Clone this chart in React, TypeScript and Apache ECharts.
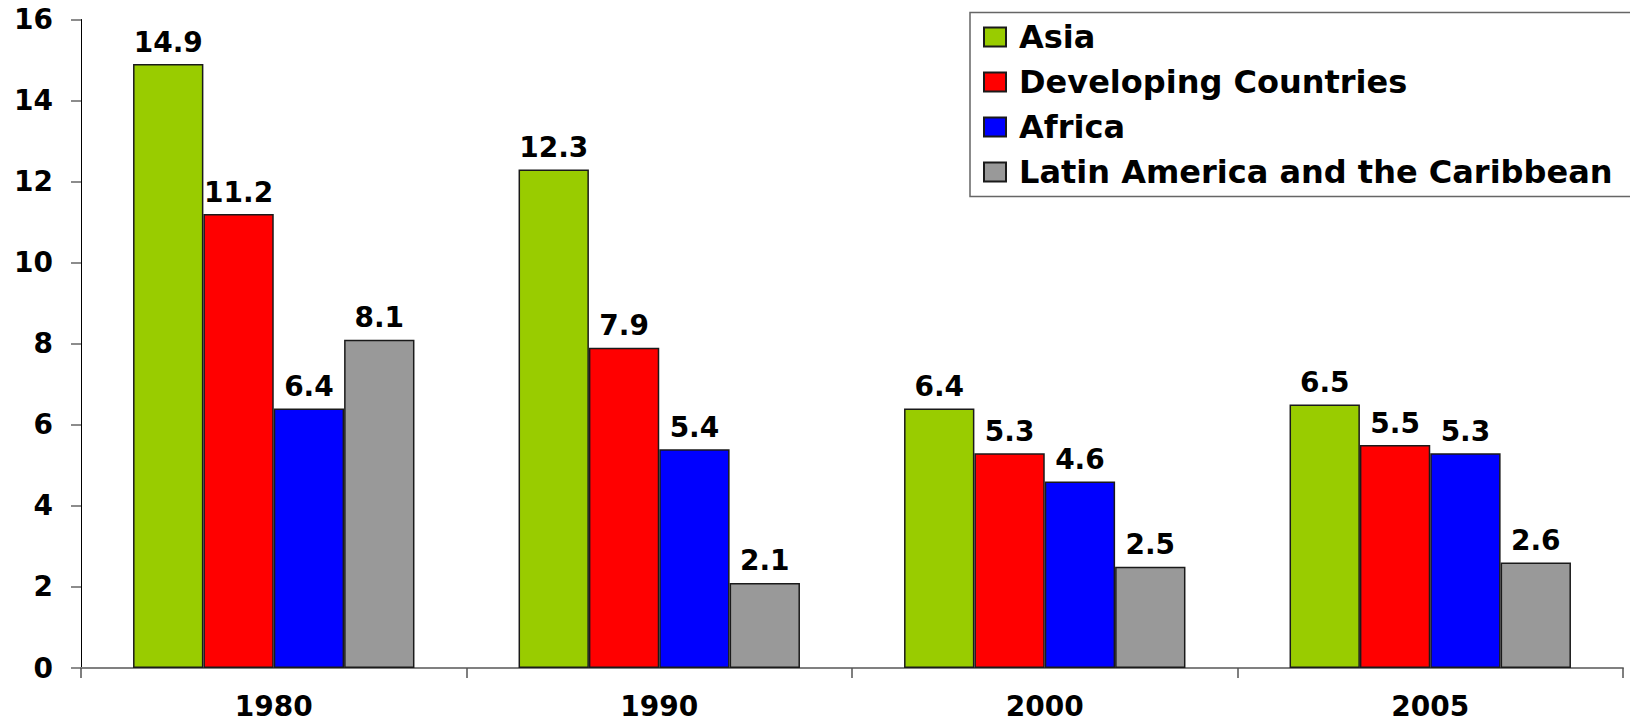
import React, { useEffect, useRef } from "react";
import * as echarts from "echarts";

const categories = ["1980", "1990", "2000", "2005"];
const seriesNames = ["Asia", "Developing Countries", "Africa", "Latin America and the Caribbean"];
const asia = [14.9, 12.3, 6.4, 6.5];
const developing = [11.2, 7.9, 5.3, 5.5];
const africa = [6.4, 5.4, 4.6, 5.3];
const latinAmerica = [8.1, 2.1, 2.5, 2.6];
const colors = ["#99CC00", "#FF0000", "#0000FF", "#999999"];
const yTicks = { min: 0, max: 16, interval: 2 };

const FONT = "'DejaVu Sans', Verdana, sans-serif";

export default function App() {
  const ref = useRef<HTMLDivElement>(null);
  useEffect(() => {
    if (!ref.current) return;
    document.body.style.margin = "0";
    document.body.style.overflow = "hidden";
    const chart = echarts.init(ref.current, undefined, { renderer: "svg" });
    const data = [asia, developing, africa, latinAmerica];
    chart.setOption({
      animation: false,
      backgroundColor: "#ffffff",
      grid: { left: 81, right: 7, top: 19.5, bottom: 54, containLabel: false },
      graphic: [
        {
          type: "rect",
          z: 0,
          silent: true,
          shape: { x: 970, y: 12.5, width: 720, height: 184 },
          style: { fill: "#ffffff", stroke: "#666666", lineWidth: 1.5 },
        },
      ],
      legend: {
        orient: "vertical",
        left: 970,
        top: 12,
        padding: [9, 0, 8, 13],
        borderWidth: 0,
        itemWidth: 22,
        itemHeight: 19,
        itemGap: 13,
        icon: "rect",
        z: 5,
        textStyle: {
          fontFamily: FONT,
          fontWeight: "bold",
          fontSize: 32,
          color: "#000000",
          lineHeight: 32,
          padding: [0, 0, 0, 8],
        },
        data: seriesNames,
      },
      xAxis: {
        type: "category",
        data: categories,
        boundaryGap: true,
        axisLine: { show: true, lineStyle: { color: "#808080", width: 2 } },
        axisTick: { show: true, length: 10, lineStyle: { color: "#555555", width: 1.5 } },
        axisLabel: {
          fontFamily: FONT,
          fontWeight: "bold",
          fontSize: 28,
          lineHeight: 28,
          color: "#000000",
          margin: 24,
        },
        splitLine: { show: false },
      },
      yAxis: {
        type: "value",
        min: yTicks.min,
        max: yTicks.max,
        interval: yTicks.interval,
        axisLine: { show: true, lineStyle: { color: "#000000", width: 1 } },
        axisTick: { show: true, length: 10, lineStyle: { color: "#666666", width: 1.5 } },
        axisLabel: {
          fontFamily: FONT,
          fontWeight: "bold",
          fontSize: 28,
          color: "#000000",
          margin: 28,
        },
        splitLine: { show: false },
      },
      series: seriesNames.map((name, i) => ({
        name,
        type: "bar",
        data: data[i],
        barGap: "0%",
        barCategoryGap: "27%",
        itemStyle: { color: colors[i], borderColor: "#1a1a1a", borderWidth: 1.5 },
        label: {
          show: true,
          position: "top",
          distance: 8,
          fontFamily: FONT,
          fontWeight: "bold",
          fontSize: 28,
          color: "#000000",
          formatter: (p: any) => Number(p.value).toFixed(1),
        },
      })),
    });
    return () => chart.dispose();
  }, []);
  return (
    <div style={{ width: 1630, height: 722, position: "fixed", left: 0, top: 0, overflow: "hidden", background: "#fff" }}>
      <div ref={ref} style={{ width: 1630, height: 722 }} />
    </div>
  );
}
